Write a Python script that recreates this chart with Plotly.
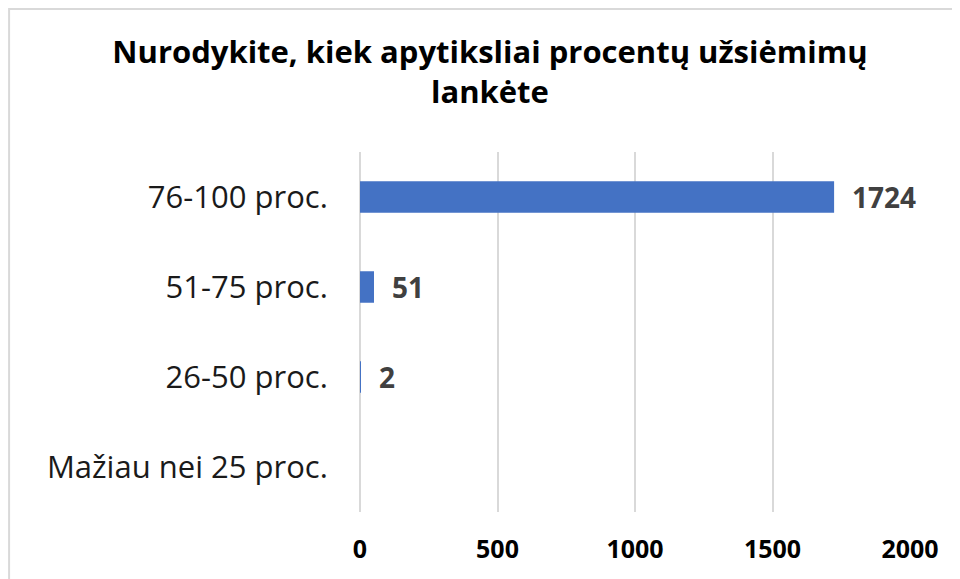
import plotly.graph_objects as go

categories = ["Mažiau nei 25 proc.", "26-50 proc.", "51-75 proc.", "76-100 proc."]
values = [0, 2, 51, 1724]
x_ticks = [0, 500, 1000, 1500, 2000]
title_text = "Nurodykite, kiek apytiksliai procentų užsiėmimų<br>lankėte"

fig = go.Figure(go.Bar(
    x=values,
    y=categories,
    orientation="h",
    width=0.35,
    marker=dict(color="#4472C4", line=dict(width=0)),
    hoverinfo="x+y",
))

# value labels to the right of each bar (zero gets none)
for cat, val in zip(categories, values):
    if val > 0:
        fig.add_annotation(
            x=val, y=cat, text=f"<b>{val}</b>", showarrow=False,
            xanchor="left", xshift=16,
            font=dict(family="Open Sans", size=28, color="#404040"),
        )

# outer chart frame
fig.add_shape(type="rect", xref="paper", yref="paper",
              x0=-0.638, x1=1.2, y0=-0.3, y1=1.397,
              line=dict(color="#D9D9D9", width=2))

fig.update_layout(
    width=960, height=579,
    margin=dict(l=352, r=58, t=144, b=75),
    paper_bgcolor="white", plot_bgcolor="white",
    showlegend=False,
    title=dict(
        text=f"<b>{title_text}</b>",
        x=0.502, xanchor="center", y=0.905, yanchor="top",
        font=dict(family="Open Sans", size=31, color="black"),
    ),
    xaxis=dict(
        range=[0, 2000], tickvals=x_ticks, ticktext=[f"<b>{t}</b>" for t in x_ticks],
        showgrid=True, gridcolor="#D9D9D9", gridwidth=2,
        zeroline=True, zerolinecolor="#D9D9D9", zerolinewidth=2, showline=False,
        ticks="outside", ticklen=15, tickcolor="rgba(0,0,0,0)",
        tickfont=dict(family="Open Sans", size=25, color="black"),
    ),
    yaxis=dict(
        showgrid=False, zeroline=False, showline=False,
        ticks="outside", ticklen=25, tickcolor="rgba(0,0,0,0)",
        tickfont=dict(family="Open Sans", size=31, color="#1a1a1a"),
    ),
)

fig.write_html("out.html")
